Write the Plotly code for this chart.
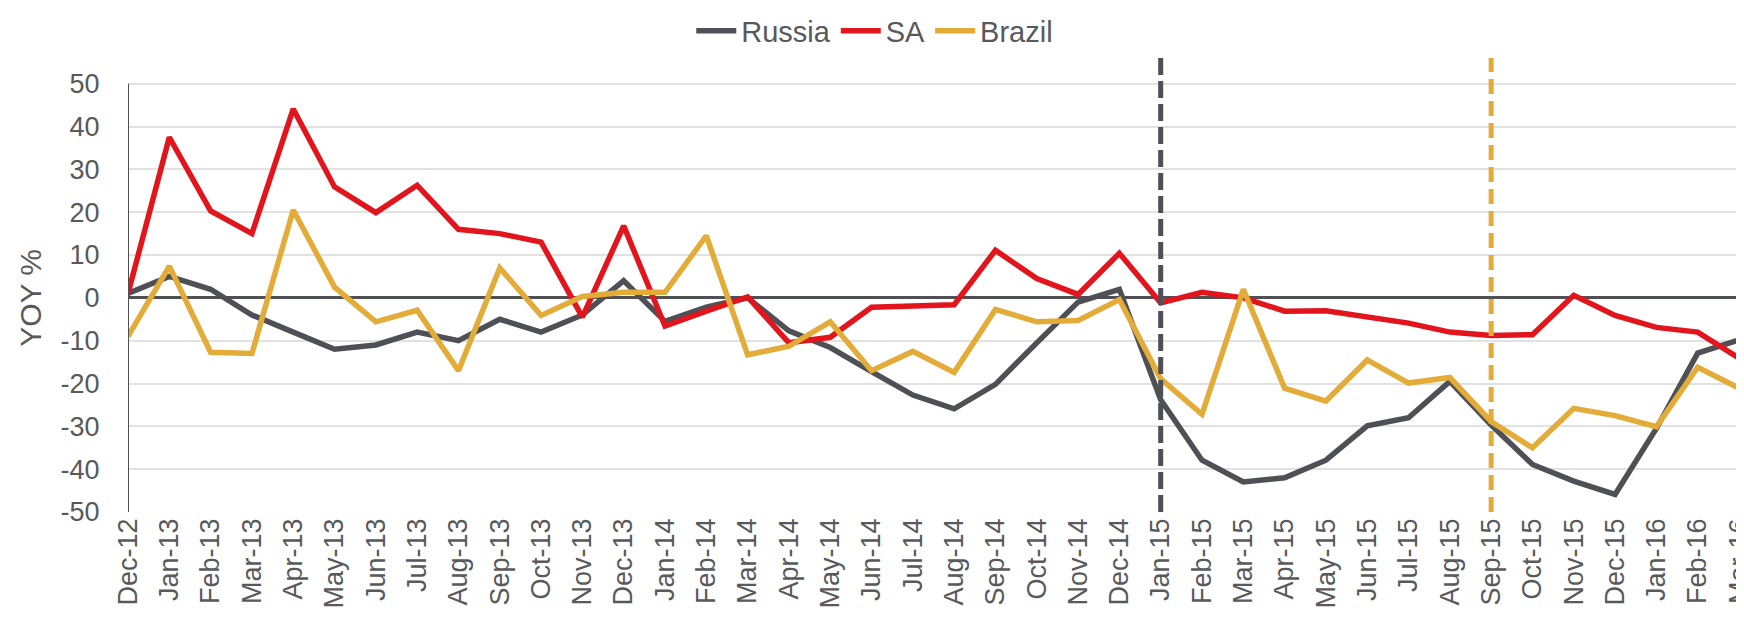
import plotly.graph_objects as go

months = ["Dec-12",
          "Jan-13", "Feb-13", "Mar-13", "Apr-13", "May-13", "Jun-13", "Jul-13", "Aug-13", "Sep-13", "Oct-13", "Nov-13", "Dec-13",
          "Jan-14", "Feb-14", "Mar-14", "Apr-14", "May-14", "Jun-14", "Jul-14", "Aug-14", "Sep-14", "Oct-14", "Nov-14", "Dec-14",
          "Jan-15", "Feb-15", "Mar-15", "Apr-15", "May-15", "Jun-15", "Jul-15", "Aug-15", "Sep-15", "Oct-15", "Nov-15", "Dec-15",
          "Jan-16", "Feb-16", "Mar-16"]

russia = [1, 5, 2, -4, -8, -12, -11, -8, -10, -5, -8, -4, 4,
          -5.5, -2.2, 0, -7.7, -11.6, -17.2, -22.7, -25.9, -20.2, -10.5, -1, 2,
          -23.8, -37.9, -43, -42, -37.9, -29.9, -28, -19.5, -29.7, -38.9, -42.8, -45.9,
          -30.5, -12.9, -9.8]

sa = [1, 37.5, 20.3, 15, 44.1, 25.9, 19.9, 26.3, 16, 15, 13, -4.5, 16.8,
      -6.6, -3.1, 0.2, -10.5, -9.2, -2.2, -2, -1.6, 11.1, 4.5, 0.8, 10.4,
      -1.2, 1.3, 0, -3.1, -3, -4.5, -5.9, -8, -8.8, -8.6, 0.6, -4.1,
      -6.9, -8, -14.1]

brazil = [-9, 7.4, -12.7, -13, 20.5, 2.5, -5.6, -2.9, -17, 7, -4.1, 0.3, 1.3,
          1.3, 14.5, -13.3, -11.3, -5.6, -17, -12.5, -17.4, -2.7, -5.6, -5.3, -0.4,
          -18.9, -27.2, 2, -21.1, -24.1, -14.5, -19.9, -18.6, -28.9, -35, -25.8, -27.5,
          -30.1, -16.2, -21.1]

series_names = ["Russia", "SA", "Brazil"]
marker_months = ["Jan-15", "Sep-15"]  # vertical dashed markers (Russia, Brazil)

y_ticks = [-50, -40, -30, -20, -10, 0, 10, 20, 30, 40, 50]
y_ticktext = ["-50", "-40", "-30", "-20", "-10", "0", "10", "20", "30", "40", "50"]
Y_MIN, Y_MAX = -50, 56

GREY = "#4e5055"
RED = "#e2151c"
GOLD = "#e3ab38"
TEXT = "#58595b"
FONT = "Liberation Sans, Arial, sans-serif"

fig = go.Figure()
for name, vals, col in zip(series_names, [russia, sa, brazil], [GREY, RED, GOLD]):
    fig.add_trace(go.Scatter(x=months, y=vals, mode="lines", name=name,
                             line=dict(color=col, width=5.5), hoverinfo="x+y+name"))

for m, col, dash in zip(marker_months, [GREY, GOLD], ["17px,6px", "15px,7px"]):
    fig.add_trace(go.Scatter(x=[m, m], y=[Y_MIN, Y_MAX], mode="lines", showlegend=False,
                             line=dict(color=col, width=5, dash=dash), hoverinfo="skip"))

# y axis line from -50 to 50
fig.add_shape(type="line", xref="x", yref="y", x0=0, x1=0, y0=y_ticks[0], y1=y_ticks[-1],
              line=dict(color=GREY, width=2), layer="above")

fig.update_layout(
    width=1744, height=617,
    margin=dict(l=120, r=13, t=50, b=113, autoexpand=False),
    paper_bgcolor="white", plot_bgcolor="white",
    font=dict(family=FONT, color=TEXT, size=27),
    showlegend=True,
    legend=dict(orientation="h", xref="container", yref="container", x=0.497, xanchor="center",
                y=0.963, yanchor="middle", font=dict(size=29, color=TEXT),
                itemwidth=40, tracegroupgap=0, bgcolor="rgba(0,0,0,0)"),
    xaxis=dict(type="category", categoryorder="array", categoryarray=months,
               range=[0, len(months) - 1], showgrid=False, zeroline=False, showline=False,
               ticks="", tickangle=-90,
               tickfont=dict(size=27, color=TEXT), automargin=False),
    xaxis2=dict(overlaying="x", anchor="free", position=(0 - Y_MIN) / (Y_MAX - Y_MIN),
                range=[0, len(months) - 1], tickmode="linear", tick0=0, dtick=1,
                ticks="outside", ticklen=9, tickwidth=2, tickcolor=GREY, layer="above traces",
                showticklabels=False, showgrid=False, zeroline=False, showline=False),
    yaxis=dict(range=[Y_MIN, Y_MAX], tickvals=y_ticks, ticktext=y_ticktext,
               showgrid=True, gridcolor="#e2e2e2",
               gridwidth=1.5, zeroline=True, zerolinecolor=GREY, zerolinewidth=2.5,
               showline=False, ticks="outside", ticklen=22, tickcolor="rgba(0,0,0,0)",
               tickfont=dict(size=27, color=TEXT), automargin=False),
    annotations=[dict(text="YOY %", textangle=-90, xref="paper", yref="y", x=0, y=0,
                      xanchor="center", yanchor="middle", xshift=-97, showarrow=False,
                      font=dict(size=30, color=TEXT))],
)

fig.write_html("out.html")
